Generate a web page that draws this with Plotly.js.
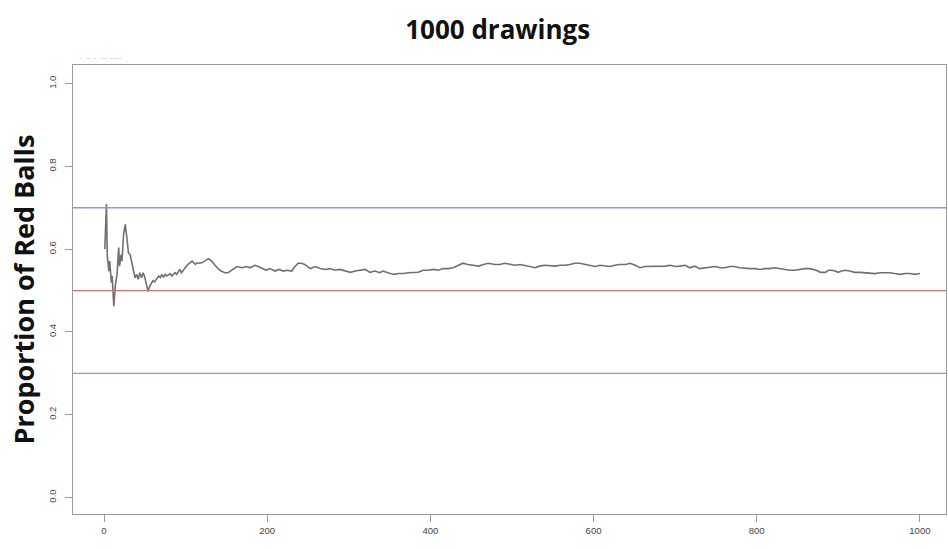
<!DOCTYPE html>
<html>
<head>
<meta charset="utf-8">
<script src="https://cdn.plot.ly/plotly-3.0.1.min.js"></script>
<style>html,body{margin:0;padding:0;background:#fff;}#chart{width:948px;height:549px;}</style>
</head>
<body>
<div id="chart"></div>
<script>
// Running proportion of red balls after each drawing
const drawings = [1,2,3,4,6,7,9,10,12,14,16,18,19,21,22,24,26,28,30,32,34,36,38,40,42,44,46,48,50,52,54,56,58,60,62,65,67,69,71,73,75,77,79,81,83,85,87,89,91,93,95,97,99,101,103,105,108,110,112,114,116,120,124,128,132,136,142,148,152,157,163,169,175,179,185,189,193,199,203,210,214,220,224,230,234,238,242,246,253,259,265,271,277,283,289,295,302,308,314,320,326,332,338,342,348,355,361,367,373,379,385,391,397,404,410,416,422,428,434,440,446,453,459,465,471,479,485,491,498,504,510,516,522,528,534,540,547,553,559,565,571,577,583,590,596,602,608,614,620,626,632,639,645,651,657,663,669,675,681,688,694,700,706,712,718,724,730,737,743,749,755,761,767,773,779,786,792,798,804,810,816,822,828,835,841,847,853,859,865,869,873,878,884,888,892,896,900,904,908,914,920,927,933,939,945,951,957,963,969,976,982,988,994,1000];
const proportion = [0.600,0.640,0.709,0.583,0.547,0.571,0.519,0.535,0.462,0.515,0.539,0.604,0.559,0.587,0.571,0.636,0.660,0.628,0.591,0.587,0.567,0.551,0.531,0.539,0.527,0.543,0.531,0.543,0.532,0.515,0.498,0.510,0.519,0.524,0.521,0.531,0.535,0.531,0.539,0.532,0.539,0.535,0.539,0.541,0.535,0.539,0.543,0.539,0.547,0.551,0.543,0.549,0.553,0.559,0.563,0.567,0.571,0.567,0.563,0.567,0.566,0.567,0.571,0.577,0.571,0.561,0.549,0.543,0.543,0.549,0.558,0.555,0.558,0.555,0.561,0.558,0.555,0.549,0.553,0.547,0.551,0.547,0.549,0.547,0.558,0.566,0.566,0.563,0.553,0.558,0.553,0.551,0.553,0.549,0.551,0.547,0.544,0.547,0.549,0.551,0.544,0.547,0.543,0.547,0.543,0.539,0.541,0.541,0.543,0.543,0.544,0.549,0.549,0.551,0.549,0.553,0.553,0.555,0.561,0.566,0.563,0.561,0.559,0.563,0.566,0.563,0.563,0.566,0.563,0.561,0.563,0.561,0.558,0.555,0.559,0.561,0.559,0.559,0.561,0.561,0.563,0.566,0.566,0.563,0.561,0.558,0.561,0.559,0.558,0.561,0.563,0.563,0.566,0.561,0.555,0.558,0.558,0.559,0.558,0.559,0.561,0.558,0.559,0.561,0.555,0.559,0.553,0.555,0.555,0.558,0.555,0.555,0.558,0.558,0.555,0.553,0.553,0.553,0.551,0.553,0.553,0.555,0.553,0.551,0.549,0.549,0.551,0.553,0.553,0.551,0.549,0.544,0.544,0.549,0.549,0.547,0.544,0.547,0.549,0.547,0.544,0.544,0.543,0.541,0.541,0.543,0.543,0.543,0.541,0.539,0.541,0.541,0.539,0.541,0.541,0.543];
// Reference lines
const boundLines = [0.7, 0.3];
const trueLine = [0.5];
const xTicks = [0, 200, 400, 600, 800, 1000];
const yTicks = [0.0, 0.2, 0.4, 0.6, 0.8, 1.0];
const yTickText = ["0.0", "0.2", "0.4", "0.6", "0.8", "1.0"];

const shapes = [];
boundLines.forEach(v => shapes.push({type:'line', xref:'paper', x0:0, x1:1, yref:'y', y0:v, y1:v, line:{color:'#9494d8', width:1.3}}));
trueLine.forEach(v => shapes.push({type:'line', xref:'paper', x0:0, x1:1, yref:'y', y0:v, y1:v, line:{color:'#d27272', width:1.3}}));

const trace = {
  x: drawings, y: proportion, type: 'scatter', mode: 'lines',
  line: {color: '#707070', width: 1.6}, hoverinfo: 'skip', showlegend: false
};

const tickFont = {family: '"Liberation Sans Narrow", "Liberation Sans", Arial, sans-serif', size: 9.5, color: '#444'};

const layout = {
  width: 948, height: 549,
  margin: {l: 73, r: 2, t: 65, b: 35, pad: 0},
  paper_bgcolor: '#fff', plot_bgcolor: '#fff',
  title: {text: '<b>1000 drawings</b>', x: 0.525, xanchor: 'center', y: 0.945, yanchor: 'middle', font: {family: '"Open Sans", "Noto Sans", sans-serif', size: 26, color: '#111'}},
  xaxis: {
    range: [-38, 1032], tickvals: xTicks, ticktext: xTicks.map(String),
    showgrid: false, zeroline: false, showline: true, linecolor: '#9a9a9a', linewidth: 1.3, mirror: true,
    ticks: 'outside', ticklen: 7, tickcolor: '#9a9a9a', tickwidth: 1, tickfont: tickFont
  },
  yaxis: {
    range: [-0.04, 1.045], tickvals: yTicks, ticktext: yTickText, tickangle: -90,
    showgrid: false, zeroline: false, showline: true, linecolor: '#9a9a9a', linewidth: 1.3, mirror: true,
    ticks: 'outside', ticklen: 7, tickcolor: '#9a9a9a', tickwidth: 1, tickfont: tickFont, ticklabelstandoff: 5,
    title: {text: '<b>Proportion of Red Balls</b>', standoff: 4, font: {family: '"Open Sans", "Noto Sans", sans-serif', size: 27, color: '#111'}}
  },
  shapes: shapes,
  annotations: [{xref: 'paper', yref: 'paper', x: 0.005, y: 1.013, xanchor: 'left', yanchor: 'middle', showarrow: false,
    text: '·  ·· ··  ··· ·····', font: {family: 'DejaVu Sans', size: 7, color: '#e08080'}}]
};

Plotly.newPlot('chart', [trace], layout, {displayModeBar: false, staticPlot: true});
</script>
</body>
</html>
